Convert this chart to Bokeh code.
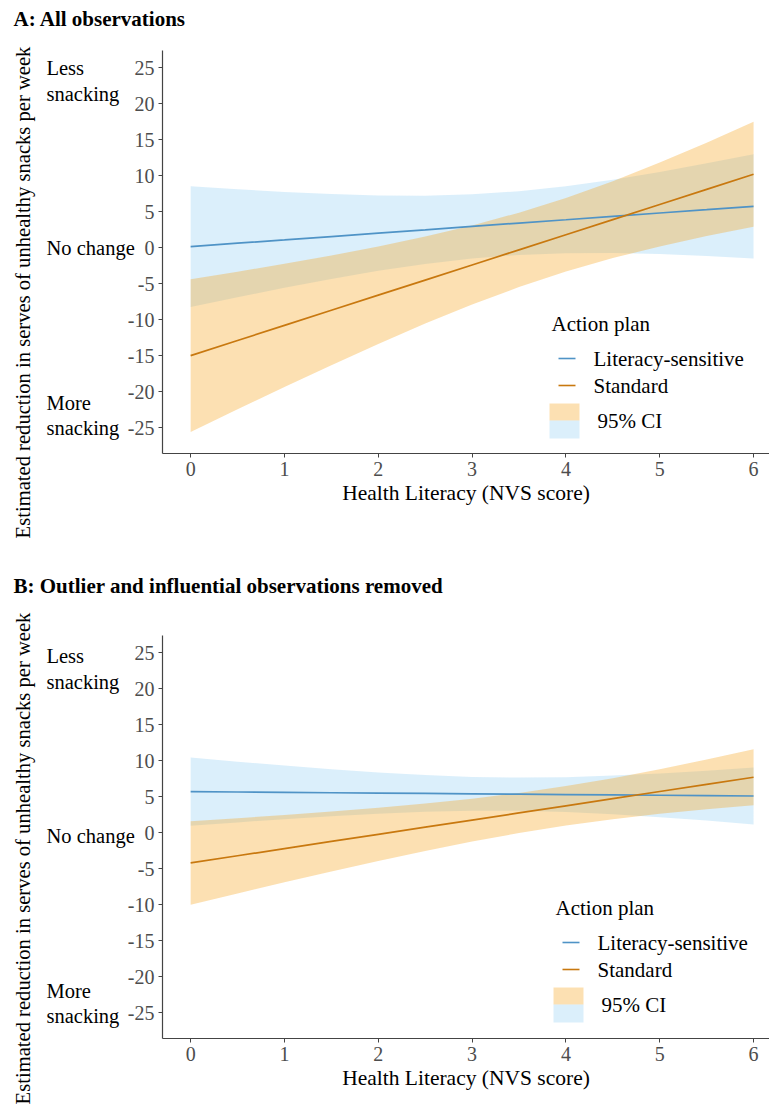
import math
from bokeh.plotting import figure
from bokeh.models import Label, BoxAnnotation, Range1d
from bokeh.layouts import column
from bokeh.embed import file_html
from bokeh.resources import INLINE

# ---------------- data ----------------
nvs = [0, 0.5, 1, 1.5, 2, 2.5, 3, 3.5, 4, 4.5, 5, 5.5, 6]

# Panel A: all observations
a_ls_fit = [0.15, 0.62, 1.08, 1.55, 2.02, 2.48, 2.95, 3.42, 3.88, 4.35, 4.82, 5.28, 5.75]
a_ls_hi = [8.55, 8.12, 7.74, 7.45, 7.26, 7.23, 7.41, 7.84, 8.52, 9.43, 10.52, 11.72, 13.0]
a_ls_lo = [-8.25, -6.88, -5.58, -4.35, -3.22, -2.27, -1.51, -1.00, -0.76, -0.73, -0.88, -1.16, -1.5]
a_std_fit = [-15.0, -12.9, -10.8, -8.7, -6.6, -4.5, -2.4, -0.3, 1.8, 3.9, 6.0, 8.1, 10.2]
a_std_hi = [-4.4, -3.34, -2.24, -1.08, 0.17, 1.54, 3.09, 4.87, 6.91, 9.24, 11.82, 14.59, 17.5]
a_std_lo = [-25.6, -22.46, -19.36, -16.32, -13.37, -10.54, -7.89, -5.47, -3.31, -1.44, 0.18, 1.61, 2.9]

# Panel B: outlier and influential observations removed
b_ls_fit = [5.70, 5.65, 5.60, 5.55, 5.50, 5.45, 5.40, 5.35, 5.30, 5.25, 5.20, 5.15, 5.10]
b_ls_hi = [10.45, 9.87, 9.32, 8.81, 8.36, 8.00, 7.75, 7.66, 7.72, 7.93, 8.24, 8.62, 9.05]
b_ls_lo = [0.95, 1.43, 1.88, 2.29, 2.64, 2.90, 3.05, 3.04, 2.88, 2.57, 2.16, 1.68, 1.15]
b_std_fit = [-4.2, -3.21, -2.22, -1.22, -0.23, 0.76, 1.75, 2.74, 3.73, 4.72, 5.72, 6.71, 7.70]
b_std_hi = [1.60, 2.02, 2.46, 2.95, 3.47, 4.05, 4.73, 5.53, 6.47, 7.57, 8.82, 10.17, 11.60]
b_std_lo = [-10.0, -8.44, -6.90, -5.39, -3.93, -2.53, -1.23, -0.05, 0.99, 1.87, 2.62, 3.25, 3.80]

x_ticks = [0, 1, 2, 3, 4, 5, 6]
y_ticks = [-25, -20, -15, -10, -5, 0, 5, 10, 15, 20, 25]

series_names = ["Literacy-sensitive", "Standard"]
legend_title = "Action plan"
ci_label = "95% CI"
x_title = "Health Literacy (NVS score)"
y_title = "Estimated reduction in serves of unhealthy snacks per week"
titles = ["A: All observations", "B: Outlier and influential observations removed"]
side_texts = ["Less", "snacking", "No change", "More", "snacking"]

# ---------------- styles / layout ----------------
FONT = "Liberation Serif"
BLUE = "#4f93c6"
ORANGE = "#c8780f"
BLUE_FILL, BLUE_ALPHA = "#5ab4ec", 0.22
ORANGE_FILL, ORANGE_ALPHA = "#f6a623", 0.35
AXIS_COL = "#444444"
TICK_TXT = "#4d4d4d"

W = 769
Y_LO, Y_HI = -28.6, 27.4      # axis limits
X_LO, X_HI = -0.3, 6.17
PLOT_L = 162                  # pixel position of the y axis line
PLOT_H = 403                  # pixel height of the y axis


def build(title, ls_fit, ls_lo, ls_hi, std_fit, std_lo, std_hi,
          height, top, ylab_y, title_y, side_y, ldx, ldy):
    bottom = height - top - PLOT_H          # px below the x-axis line
    xpp = (X_HI - X_LO) / (W - PLOT_L)
    ypp = (Y_HI - Y_LO) / PLOT_H
    p = figure(width=W, height=height,
               x_range=Range1d(X_LO - PLOT_L * xpp, X_HI),
               y_range=Range1d(Y_LO - bottom * ypp, Y_HI + top * ypp),
               output_backend="svg", toolbar_location=None,
               min_border_left=0, min_border_right=0, min_border_top=0, min_border_bottom=0)
    p.outline_line_color = None
    p.xgrid.visible = False
    p.ygrid.visible = False

    p.varea(x=nvs, y1=ls_lo, y2=ls_hi, fill_color=BLUE_FILL, fill_alpha=BLUE_ALPHA)
    p.varea(x=nvs, y1=std_lo, y2=std_hi, fill_color=ORANGE_FILL, fill_alpha=ORANGE_ALPHA)
    p.line(nvs, ls_fit, line_color=BLUE, line_width=1.7)
    p.line(nvs, std_fit, line_color=ORANGE, line_width=1.7)

    for ax in (p.xaxis, p.yaxis):
        ax.axis_line_color = AXIS_COL
        ax.axis_line_width = 1.2
        ax.major_tick_line_color = AXIS_COL
        ax.major_tick_in = 0
        ax.major_tick_out = 4
        ax.minor_tick_line_color = None
        ax.major_label_text_font = FONT
        ax.major_label_text_font_size = "20px"
        ax.major_label_text_color = TICK_TXT
    p.xaxis.fixed_location = Y_LO
    p.yaxis.fixed_location = X_LO
    p.xaxis.bounds = (X_LO, X_HI)
    p.yaxis.bounds = (Y_LO, Y_HI)
    p.xaxis.ticker = x_ticks
    p.yaxis.ticker = y_ticks
    p.xaxis.major_label_overrides = {v: str(v) for v in x_ticks}
    p.yaxis.major_label_overrides = {v: str(v) for v in y_ticks}
    p.xaxis.major_label_standoff = 4
    p.yaxis.major_label_standoff = 4
    p.xaxis.axis_label = x_title
    p.xaxis.axis_label_text_font = FONT
    p.xaxis.axis_label_text_font_size = "21.5px"
    p.xaxis.axis_label_text_font_style = "normal"
    p.xaxis.axis_label_text_color = "black"
    p.xaxis.axis_label_standoff = 2

    def lab(text, x, y, yu="screen", size="21px", style="normal", align="left", angle=0.0):
        p.add_layout(Label(x=x, y=y, x_units="screen", y_units=yu, text=text,
                           text_font=FONT, text_font_size=size, text_font_style=style,
                           text_color="black", text_align=align, text_baseline="middle",
                           angle=angle))

    def box(l, r, t, b, color, alpha):
        p.add_layout(BoxAnnotation(left=l, right=r, top=t, bottom=b,
                                   left_units="screen", right_units="screen",
                                   top_units="screen", bottom_units="screen",
                                   fill_color=color, fill_alpha=alpha,
                                   line_alpha=0, line_width=0))

    # panel title, rotated y title, side notes (screen y counted from the bottom)
    lab(title, 13, height - title_y, size="21px", style="bold")
    lab(y_title, 22, height - ylab_y, size="20.6px", align="center", angle=math.pi / 2)
    for t, yv in zip(side_texts, side_y):
        lab(t, 46, yv, yu="data", size="20.5px")

    # legend (drawn manually, ggplot style), relative to the plotting area
    ox, oy = PLOT_L + ldx, bottom + ldy
    lab(legend_title, ox + 389, oy + 130)
    box(ox + 396, ox + 413, oy + 95.8, oy + 94.2, BLUE, 1)
    box(ox + 396, ox + 413, oy + 68.8, oy + 67.2, ORANGE, 1)
    lab(series_names[0], ox + 431, oy + 95)
    lab(series_names[1], ox + 431, oy + 68)
    box(ox + 387, ox + 417, oy + 50, oy + 33, ORANGE_FILL, ORANGE_ALPHA)
    box(ox + 387, ox + 417, oy + 33, oy + 15, BLUE_FILL, BLUE_ALPHA)
    lab(ci_label, ox + 435, oy + 33)
    return p


pa = build(titles[0], a_ls_fit, a_ls_lo, a_ls_hi, a_std_fit, a_std_lo, a_std_hi,
           height=568, top=50, ylab_y=292, title_y=18,
           side_y=[24.9, 21.4, 0, -21.6, -25.1], ldx=0, ldy=0)
pb = build(titles[1], b_ls_fit, b_ls_lo, b_ls_hi, b_std_fit, b_std_lo, b_std_hi,
           height=544, top=67, ylab_y=290, title_y=17,
           side_y=[24.5, 20.9, -0.4, -22.0, -25.5], ldx=4, ldy=1)

layout = column(pa, pb, spacing=0)
open("out.html", "w").write(file_html(layout, INLINE))
